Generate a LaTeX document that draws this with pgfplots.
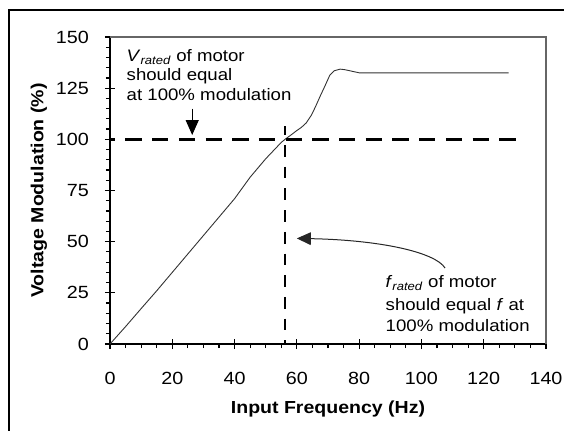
\documentclass[border=0pt]{standalone}
\usepackage{pgfplots}
\pgfplotsset{compat=1.18}
\usepackage{fontspec}
\setmainfont[FakeStretch=1.12]{Liberation Sans}
\usetikzlibrary{arrows.meta}
\begin{document}
\begin{tikzpicture}
\begin{axis}[
  scale only axis, width=436bp, height=307bp,
  xmin=0, xmax=140, ymin=0, ymax=150,
  axis lines=left, axis line style={-, line width=1.2bp, black},
  xtick={0,20,...,140}, ytick={0,25,...,150},
  minor x tick num=3, minor y tick num=4,
  tick align=center, major tick length=10bp, minor tick length=4bp,
  major tick style={line width=1.2bp, black},
  minor x tick style={line width=1.2bp, black, yshift=-2bp},
  minor y tick style={line width=1.2bp, black, xshift=-2bp},
  /pgf/number format/assume math mode=true,
  xticklabel style={font=\fontsize{17.7}{20}\selectfont, anchor=base, yshift=-35.6bp, inner sep=0pt},
  yticklabel style={font=\fontsize{17.7}{20}\selectfont, anchor=east, xshift=-16bp, inner sep=0pt},
  xlabel={Input Frequency (Hz)}, ylabel={Voltage Modulation (\%)},
  xlabel style={font=\bfseries\fontsize{17.5}{20}\selectfont, at={(axis description cs:0.5,0)}, anchor=base, yshift=-69bp},
  ylabel style={font=\bfseries\fontsize{17.5}{20}\selectfont, at={(axis description cs:-0.163,0.5)}, anchor=center},
  clip=false,
]
\addplot[black!80, line width=0.9bp] coordinates {
(0,0) (5,8.5) (10,17.3) (15,26) (20,35) (25,44) (30,53) (35,62) (40,71)
(45,81.5) (50,90.5) (55,98.5) (56.2,100) (58,102) (60,104.3) (61.5,105.9)
(63,108) (64.7,111.9) (66,116) (67.4,120.8) (69,126) (70.6,131.4) (72,133.5)
(73.9,134.3) (75.5,134) (77,133.5) (80,132.5) (128,132.5)
};
\draw[black!60, line width=1.2bp] (rel axis cs:0,1) -- (rel axis cs:1,1) -- (rel axis cs:1,0);
\draw[line width=2.5bp, dash pattern=on 16.3bp off 10.4bp, dash phase=11.3bp] (axis cs:0,100) -- (axis cs:131,100);
\draw[line width=2.5bp, dash pattern=on 11.7bp off 10bp, dash phase=2.7bp] (axis cs:56.2,106.5) -- (axis cs:56.2,0);
\draw[line width=1.2bp, -{Triangle[length=15bp,width=13bp]}] (axis cs:26.4,115) -- (axis cs:26.4,102.1);
\draw[black!85, line width=1bp, -{Triangle[length=14bp,width=12.7bp]}] (axis cs:107.6,37.1) .. controls (axis cs:104.4,44.9) and (axis cs:86.7,50.8) .. (axis cs:60,51.6);
\end{axis}
\begin{scope}[every node/.style={anchor=base west, inner sep=0pt, font=\fontsize{16.7}{20}\selectfont}]
\node at (16.5bp,282.3bp) {\textit{V}\textsubscript{\textit{rated}} of motor};
\node at (16.5bp,263.5bp) {should equal};
\node at (16.5bp,243.5bp) {at 100\% modulation};
\node at (275.5bp,56.3bp) {\textit{f}\textsubscript{\textit{rated}} of motor};
\node at (275.5bp,33.8bp) {should equal \textit{f} at};
\node at (275.5bp,12.3bp) {100\% modulation};
\end{scope}
\draw[line width=1.3bp] (-101bp,-120bp) rectangle (480bp,334bp);
\pgfresetboundingbox
\path[use as bounding box] (-110bp,-87bp) rectangle (454bp,344bp);
\end{tikzpicture}
\end{document}
